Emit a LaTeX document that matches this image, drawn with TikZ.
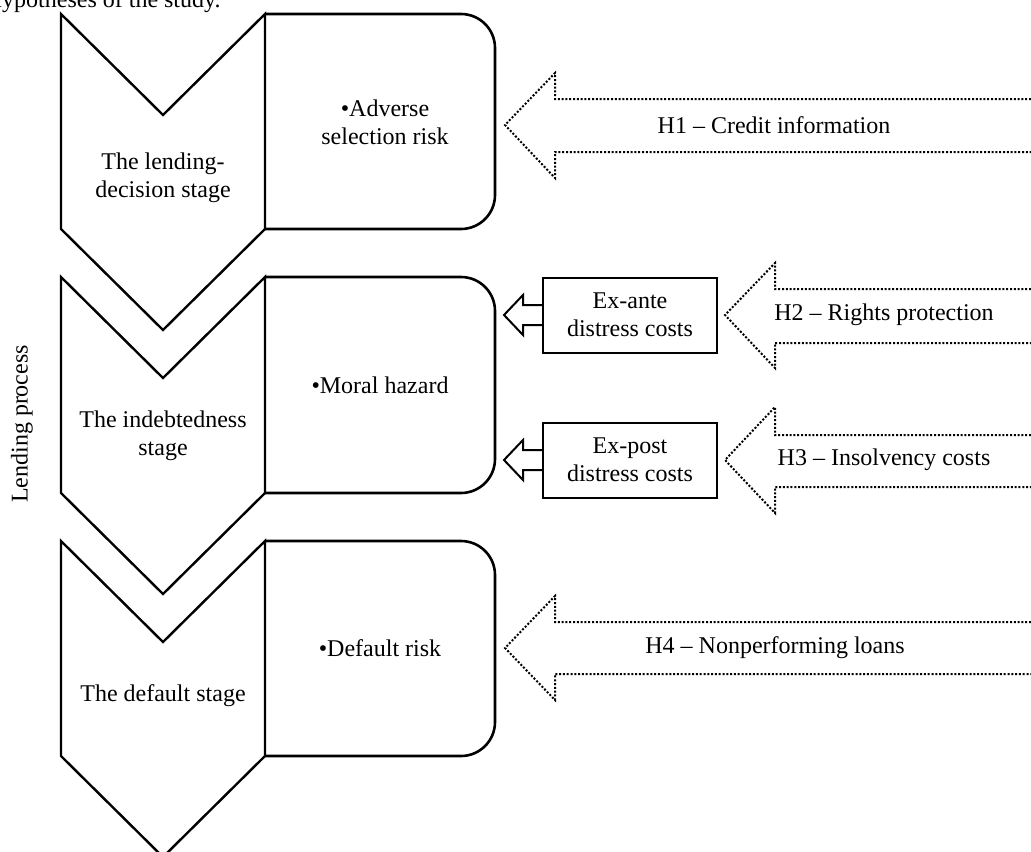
\documentclass[tikz,border=0pt]{standalone}
\usepackage{fontspec}
\setmainfont{Liberation Serif}
\usetikzlibrary{positioning}

\begin{document}
\begin{tikzpicture}[x=0.5pt,y=-0.5pt,line join=miter,node distance=72.5pt,
                    font=\fontsize{12}{14}\selectfont]
  \tikzstyle{stage}=[draw=black,line width=1.2pt]
  \tikzstyle{risk}=[draw=black,line width=1.3pt,rounded corners=17pt]
  \tikzstyle{hyp}=[draw=black,line width=1pt,dash pattern=on 1pt off 0.9pt]
  \tikzstyle{cost}=[draw=black,line width=1pt,minimum width=87pt,
                    minimum height=37.5pt,outer sep=0pt,align=center]
  \tikzstyle{txt}=[align=center,inner sep=0pt]

  \useasboundingbox (0,0) rectangle (1031,851);

  % stages
  \draw[stage] (61,14) -- (163,115) -- (265,14) -- (265,229) -- (163,330) -- (61,229) -- cycle;
  \draw[stage] (61,277) -- (163,378) -- (265,277) -- (265,493) -- (163,594) -- (61,493) -- cycle;
  \draw[stage] (61,541) -- (163,642) -- (265,541) -- (265,756) -- (163,857) -- (61,756) -- cycle;

  % risk boxes
  \draw[risk] (265,229) -- (495,229) -- (495,14) -- (265,14);
  \draw[risk] (265,493) -- (495,493) -- (495,277) -- (265,277);
  \draw[risk] (265,756) -- (495,756) -- (495,541) -- (265,541);

  \node[txt,anchor=base east] (T)  at (221,7)   {Hypotheses of the study.};
  \node[txt,rotate=90]        (P)  at (22,424)  {Lending process};

  \node[txt]                  (S1) at (163,178) {The lending-\\decision stage};
  \node[txt]                  (S2) at (163,436) {The indebtedness\\stage};
  \node[txt]                  (S3) at (163,696) {The default stage};

  \node[txt]                  (R1) at (385,122) {•Adverse\\selection risk};
  \node[txt]                  (R2) at (380,385) {•Moral hazard};
  \node[txt]                  (R3) at (380,648) {•Default risk};

  % distress costs
  \node[cost]                 (C1) at (630,315) {Ex-ante\\distress costs};
  \node[cost]                 (C2) [below of=C1] {Ex-post\\distress costs};
  \draw[cost] (C1.west) ++(0,-10) -- ++(-20,0) -- ++(0,-10) -- ++(-19,20)
              -- ++(19,20) -- ++(0,-10) -- ++(20,0);
  \draw[cost] (C2.west) ++(0,-10) -- ++(-20,0) -- ++(0,-10) -- ++(-19,20)
              -- ++(19,20) -- ++(0,-10) -- ++(20,0);

  % hypotheses
  \node[txt]                  (H1) at (774,125) {H1 – Credit information};
  \node[txt]                  (H2) at (884,315) {H2 – Rights protection};
  \node[txt]                  (H3) [below of=H2] {H3 – Insolvency costs};
  \node[txt]                  (H4) at (775,648) {H4 – Nonperforming loans};

  \draw[hyp] (1031,99) -- (555,99) -- (555,73) -- (505,125) -- (555,178) -- (555,152) -- (1031,152);
  \draw[hyp] (1031,289) -- (775,289) -- (775,263) -- (725,315) -- (775,368) -- (775,343) -- (1031,343);
  \draw[hyp] (1031,435) -- (775,435) -- (775,407) -- (725,460) -- (775,513) -- (775,487) -- (1031,487);
  \draw[hyp] (1031,622) -- (555,622) -- (555,596) -- (505,648) -- (555,700) -- (555,674) -- (1031,674);
\end{tikzpicture}
\end{document}
